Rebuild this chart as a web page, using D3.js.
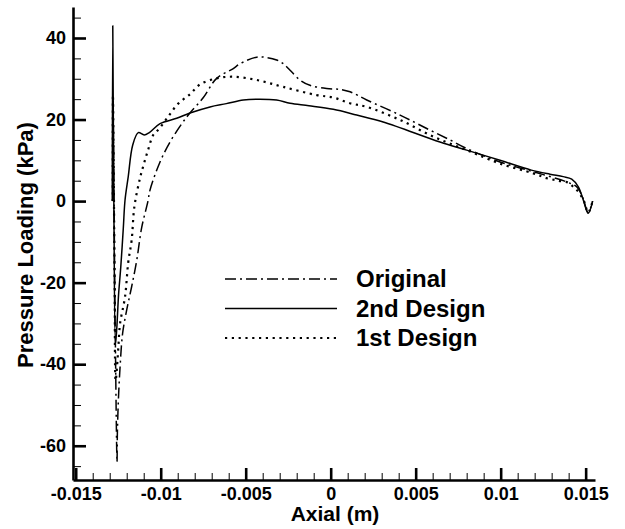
<!DOCTYPE html>
<html>
<head>
<meta charset="utf-8">
<script src="https://cdn.jsdelivr.net/npm/d3@7"></script>
<style>
  body { margin: 0; background: #fff; }
  text { font-family: "Liberation Sans", Arial, sans-serif; font-weight: bold; fill: #000; }
</style>
</head>
<body>
<script>
      const width = 625;
      const height = 529;
      const margins = { top: 7, right: 30, bottom: 49, left: 73 };

      // data: axial position (m) and pressure loading (kPa)
      const originalX = [-0.01281, -0.0128, -0.01268, -0.01257, -0.01255, -0.01249, -0.01239, -0.01224, -0.012, -0.01171, -0.01141, -0.01112, -0.01075, -0.01063, -0.01004, -0.00945, -0.00876, -0.00828, -0.00749, -0.00671, -0.00573, -0.00533, -0.00435, -0.00376, -0.00318, -0.00279, -0.00239, -0.00181, -0.00122, -0.00024, 0.00055, 0.00114, 0.00212, 0.00408, 0.00565, 0.00702, 0.008, 0.00996, 0.01192, 0.01388, 0.01447, 0.0148, 0.01515, 0.01541];
      const originalY = [0, 22, -30, -64, -57, -48.8, -40.6, -32.4, -26.7, -21, -14.5, -6.5, 0, 2.7, 9.6, 14.5, 19, 21.6, 25.4, 30.1, 32.5, 33.7, 35.3, 35.2, 34.6, 33.7, 32.1, 29.7, 28.4, 27.6, 27.4, 26.8, 24.8, 21.1, 17.8, 15, 12.9, 9.6, 7.2, 4.7, 3.5, 1.2, -2.8, 0];

      const design2X = [-0.01285, -0.01282, -0.01275, -0.01266, -0.01259, -0.01248, -0.01235, -0.0122, -0.0121, -0.01191, -0.01165, -0.01132, -0.01097, -0.01067, -0.01004, -0.00906, -0.00828, -0.0071, -0.00614, -0.00514, -0.00435, -0.00318, -0.00239, -0.00128, 0.00015, 0.00153, 0.00309, 0.00643, 0.008, 0.00996, 0.0118, 0.0129, 0.01368, 0.01418, 0.01457, 0.01486, 0.01515, 0.01541];
      const design2Y = [0, 43, -5, -35, -31.6, -23, -16.2, -6.6, 0.2, 6, 13.7, 16.8, 16.2, 16.8, 19, 20.3, 21.6, 23.1, 23.9, 24.8, 25, 24.8, 24, 23.4, 22.5, 21.1, 19.4, 14.5, 12.5, 10, 7.6, 6.6, 6, 5.4, 3.5, 0.3, -3, 0];

      const design1X = [-0.01282, -0.01281, -0.01271, -0.01265, -0.01256, -0.01249, -0.01239, -0.0121, -0.01191, -0.01171, -0.01155, -0.01122, -0.01097, -0.01073, -0.01044, -0.01008, -0.00955, -0.00897, -0.00828, -0.00769, -0.00671, -0.00573, -0.00435, -0.00279, -0.00082, 0.00015, 0.00113, 0.00212, 0.00408, 0.00604, 0.008, 0.00996, 0.01192, 0.01272, 0.0134, 0.01398, 0.01427, 0.01457, 0.0149, 0.01515, 0.01541];
      const design1Y = [0, 26, -20, -44, -40, -35.7, -30, -23.5, -15, -9.6, -1.4, 5.6, 9.4, 12.7, 16.2, 17.8, 20.8, 23.9, 26.2, 28.6, 30.1, 30.5, 29.7, 28, 26, 25.4, 24, 23.1, 19.9, 15.8, 12.5, 9.2, 6.8, 5.6, 5, 4.5, 3.5, 2.3, 0, -2.8, 0];

      const xTicks = [-0.015, -0.01, -0.005, 0, 0.005, 0.01, 0.015];
      const yTicks = [-60, -40, -20, 0, 20, 40];
      const legendNames = ["Original", "2nd Design", "1st Design"];

      const series = [
        { name: legendNames[0], xs: originalX, ys: originalY, dash: "11,4,2,4", width: 1.5 },
        { name: legendNames[1], xs: design2X, ys: design2Y, dash: null, width: 1.5 },
        { name: legendNames[2], xs: design1X, ys: design1Y, dash: "2.2,4.6", width: 2.2 },
      ];

      const canvas = d3
        .select("body")
        .append("svg")
        .attr("width", width)
        .attr("height", height);

      const x = d3
        .scaleLinear()
        .domain([-0.01516, 0.01555])
        .range([margins.left, width - margins.right]);

      const y = d3
        .scaleLinear()
        .domain([-68.4, 47.6])
        .range([height - margins.bottom, margins.top]);

      // minor ticks
      canvas
        .append("g")
        .attr("transform", "translate(0," + y.range()[0] + ")")
        .call(
          d3.axisBottom(x)
            .tickValues(d3.range(-15, 16).map((i) => i / 1000))
            .tickSize(-7)
            .tickFormat("")
        )
        .call((g) => g.select(".domain").remove())
        .selectAll("line")
        .attr("stroke-width", 1);

      canvas
        .append("g")
        .attr("transform", "translate(" + x.range()[0] + ",0)")
        .call(
          d3.axisLeft(y)
            .tickValues(d3.range(-65, 46, 5))
            .tickSize(-8)
            .tickFormat("")
        )
        .call((g) => g.select(".domain").remove())
        .selectAll("line")
        .attr("stroke-width", 1);

      // major ticks
      const xAxis = canvas
        .append("g")
        .attr("transform", "translate(0," + y.range()[0] + ")")
        .call(
          d3.axisBottom(x)
            .tickValues(xTicks)
            .tickSizeInner(-12)
            .tickSizeOuter(0)
            .tickPadding(7)
            .tickFormat((d) => String(d))
        );

      const yAxis = canvas
        .append("g")
        .attr("transform", "translate(" + x.range()[0] + ",0)")
        .call(
          d3.axisLeft(y)
            .tickValues(yTicks)
            .tickSizeInner(-13)
            .tickSizeOuter(0)
            .tickPadding(7)
            .tickFormat((d) => String(d))
        );

      canvas.selectAll(".tick line").attr("stroke", "#000");
      xAxis.selectAll(".tick line").attr("stroke-width", 2.6);
      yAxis.selectAll(".tick line").attr("stroke-width", 2.6);
      canvas.selectAll(".domain").attr("stroke-width", 2.6);
      canvas.selectAll(".tick text").style("font-size", "18px").attr("fill", "#000");

      // curves
      const line = d3
        .line()
        .x((d) => x(d[0]))
        .y((d) => y(d[1]))
        .curve(d3.curveCatmullRom.alpha(0.5));

      series.forEach(function (s) {
        const pts = s.xs.map((v, i) => [v, s.ys[i]]);
        canvas
          .append("path")
          .datum(pts)
          .attr("d", line)
          .attr("fill", "none")
          .attr("stroke", "#000")
          .attr("stroke-width", s.width)
          .attr("stroke-dasharray", s.dash)
          .attr("stroke-linejoin", "round");
      });

      // legend
      const legend = canvas
        .selectAll(".legend")
        .data(series)
        .enter()
        .append("g")
        .attr("class", "legend")
        .attr("transform", (d, i) => "translate(225," + (279 + i * 29.5) + ")");

      legend
        .append("line")
        .attr("x1", 0)
        .attr("x2", 112)
        .attr("y1", 0)
        .attr("y2", 0)
        .attr("stroke", "#000")
        .attr("stroke-width", (d) => d.width)
        .attr("stroke-dasharray", (d) => d.dash);

      legend
        .append("text")
        .attr("x", 131)
        .attr("y", 8)
        .style("font-size", "24px")
        .text((d) => d.name);

      // axis titles
      canvas
        .append("text")
        .attr("transform", "translate(33,245) rotate(-90)")
        .attr("text-anchor", "middle")
        .style("font-size", "22px")
        .text("Pressure Loading (kPa)");

      canvas
        .append("text")
        .attr("x", 335)
        .attr("y", 521)
        .attr("text-anchor", "middle")
        .style("font-size", "21px")
        .text("Axial (m)");
</script>
</body>
</html>
